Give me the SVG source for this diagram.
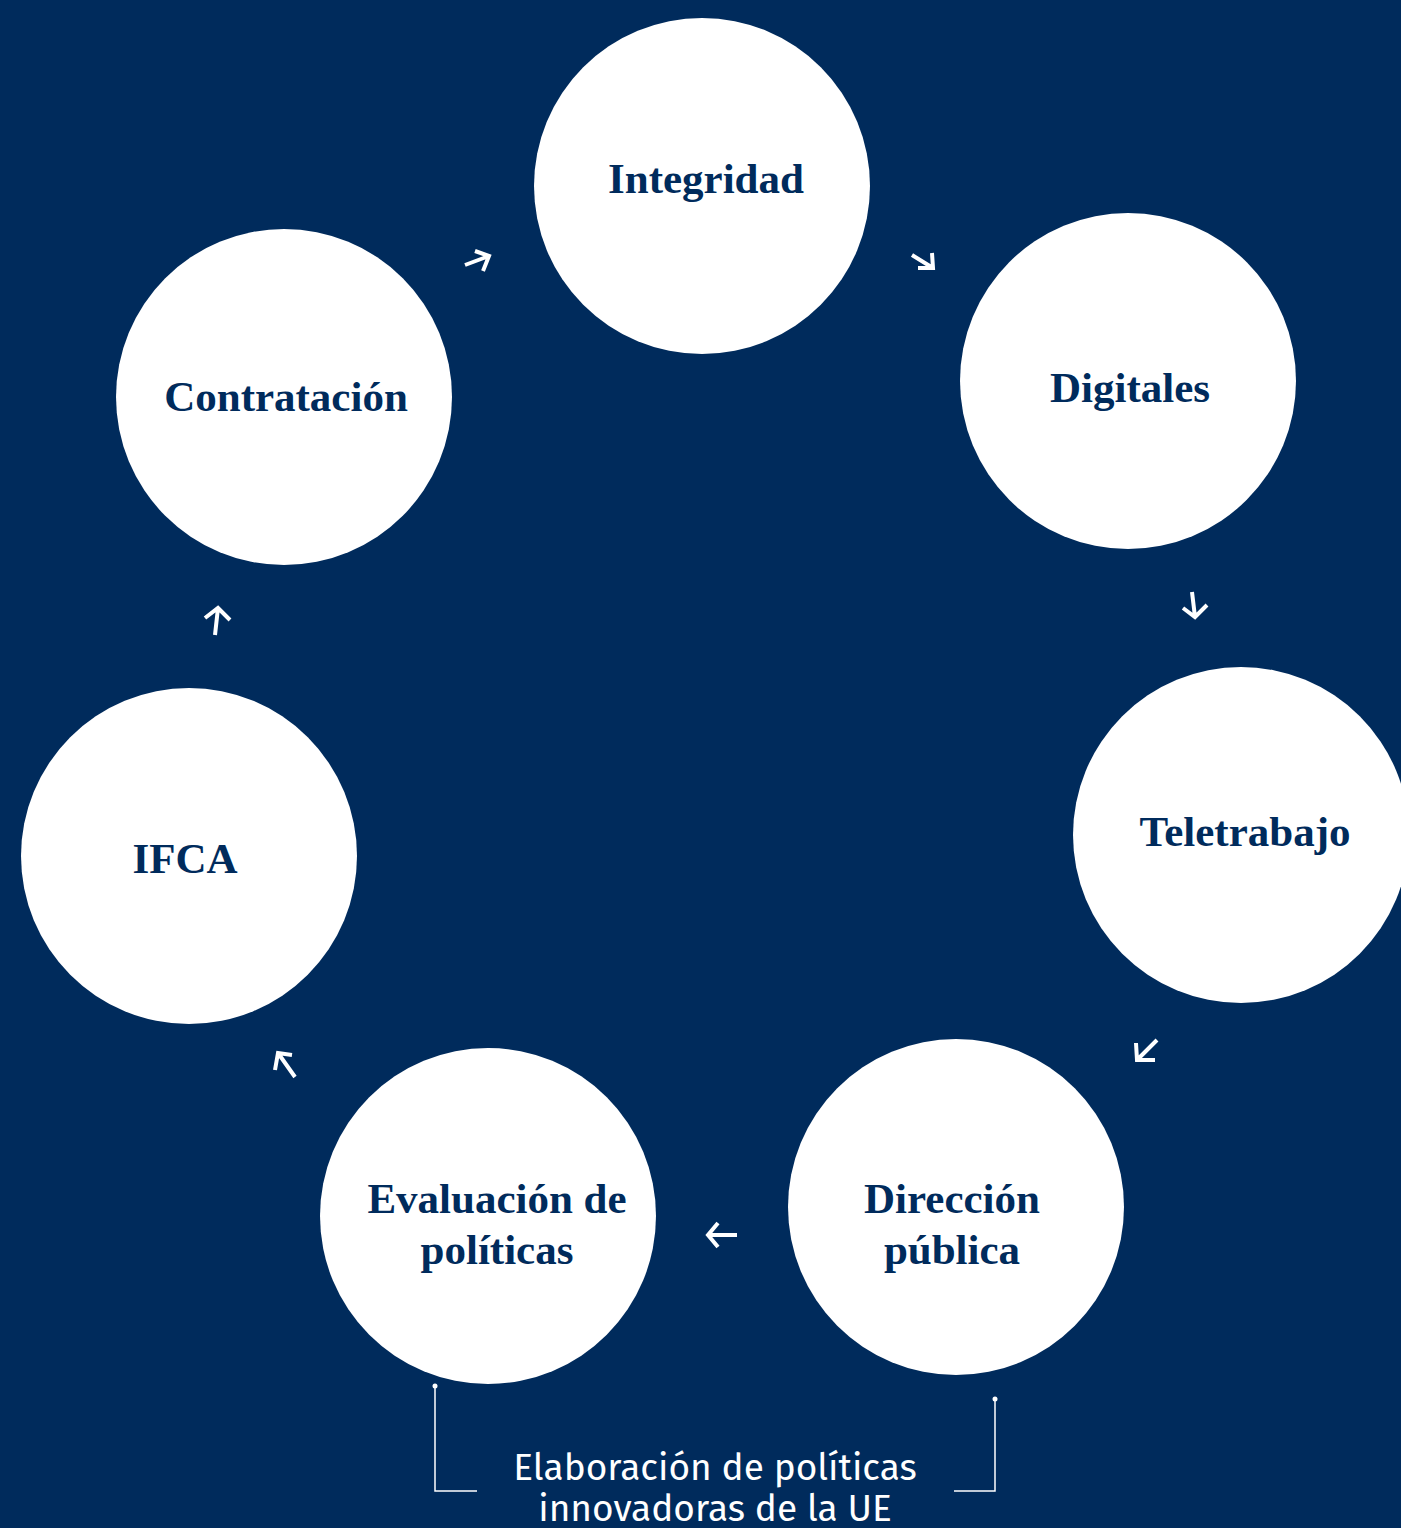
<svg xmlns="http://www.w3.org/2000/svg" width="1401" height="1528" viewBox="0 0 1401 1528">
<style>
.bg{fill:#002B5C}
.node{fill:#ffffff}
.lbl{font-family:"Liberation Serif","DejaVu Serif",serif;font-weight:bold;font-size:43px;fill:#002B5C;text-anchor:middle}
.arr{fill:none;stroke:#ffffff;stroke-width:4;stroke-linecap:butt;stroke-linejoin:miter}
.br{fill:none;stroke:#ffffff;stroke-width:1.5}
.cap{font-family:"Fira Sans","Noto Sans","Open Sans",sans-serif;font-size:37px;fill:#ffffff;text-anchor:middle}
</style>
<rect class="bg" x="0" y="0" width="1401" height="1528"/>
<g id="integridad"><circle class="node" cx="702" cy="186" r="168"/><text class="lbl" x="706" y="193">Integridad</text></g>
<g id="digitales"><circle class="node" cx="1128" cy="381" r="168"/><text class="lbl" x="1130" y="402">Digitales</text></g>
<g id="teletrabajo"><circle class="node" cx="1241" cy="835" r="168"/><text class="lbl" x="1245" y="846">Teletrabajo</text></g>
<g id="direccion"><circle class="node" cx="956" cy="1207" r="168"/><text class="lbl" x="952" y="1213">Dirección</text><text class="lbl" x="952" y="1264">pública</text></g>
<g id="evaluacion"><circle class="node" cx="488" cy="1216" r="168"/><text class="lbl" x="497" y="1213">Evaluación de</text><text class="lbl" x="497" y="1264">políticas</text></g>
<g id="ifca"><circle class="node" cx="189" cy="856" r="168"/><text class="lbl" x="185" y="873">IFCA</text></g>
<g id="contratacion"><circle class="node" cx="284" cy="397" r="168"/><text class="lbl" x="286" y="411">Contratación</text></g>
<g id="connectors">
<path class="arr" d="M465,265 L489,256 M475,251 L489,256 L483,271"/>
<path class="arr" d="M912,255 L933,268 M932,253 L933,268 L918,268"/>
<path class="arr" d="M1192,592 L1195,617 M1183,608 L1195,617 L1207,605"/>
<path class="arr" d="M1157,1040 L1137,1060 M1136,1043 L1137,1060 L1155,1060"/>
<path class="arr" d="M737,1235 L708,1235 M718,1223 L708,1235 L718,1247"/>
<path class="arr" d="M295,1077 L278,1053 M292,1055 L278,1053 L275,1070"/>
<path class="arr" d="M215,635 L218,608 M205,618 L218,608 L230,620"/>
<path class="br" d="M435,1386 L435,1491 L477,1491"/>
<circle cx="435" cy="1386" r="2.5" fill="#ffffff"/>
<path class="br" d="M995,1399 L995,1491 L954,1491"/>
<circle cx="995" cy="1399" r="2.5" fill="#ffffff"/>
</g>
<g id="caption"><text class="cap" x="715" y="1480">Elaboración de políticas<tspan x="715" dy="41">innovadoras de la UE</tspan></text></g>
</svg>
